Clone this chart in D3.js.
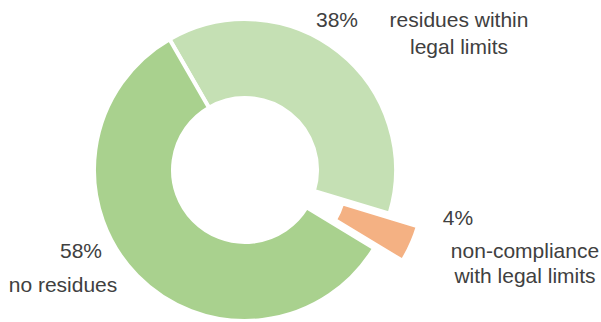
<!DOCTYPE html>
<html>
<head>
<meta charset="utf-8">
<script src="https://cdn.jsdelivr.net/npm/d3@7"></script>
<style>
  body { margin: 0; background: #fff; }
  text { font-family: Arial, "Liberation Sans", sans-serif; }
</style>
</head>
<body>
<script>
// Data
const categories = ['residues within legal limits', 'non-compliance with legal limits', 'no residues'];
const values = [38, 4, 58];
const nameLines = [['residues within', 'legal limits'], ['non-compliance', 'with legal limits'], ['no residues']];
const colors = ['#C5E0B4', '#F4B183', '#A9D18E'];
const exploded = [false, true, false];

const width = 601, height = 322;
const cx = 245, cy = 170;
const outerR = 151, innerR = 72;
const explodeBy = 31;

// label placement (percent label, then name lines)
const labelPos = [
  { pct: [337, 27], name: [459, 27], lh: 27 },
  { pct: [458, 225], name: [525, 257.5], lh: 25.5 },
  { pct: [81, 258], name: [63, 292], lh: 26 }
];

const svg = d3.select('body')
  .append('svg')
  .attr('width', width)
  .attr('height', height);

const pie = d3.pie()
  .sort(null)
  .value(d => d)
  .startAngle(-30 * Math.PI / 180)
  .endAngle(-30 * Math.PI / 180 + 2 * Math.PI);

const arc = d3.arc()
  .innerRadius(innerR)
  .outerRadius(outerR);

const arcs = pie(values);

const g = svg.append('g')
  .attr('transform', `translate(${cx}, ${cy})`);

g.selectAll('path')
  .data(arcs)
  .enter()
  .append('path')
  .attr('d', arc)
  .attr('fill', (d, i) => colors[i])
  .attr('stroke', '#fff')
  .attr('stroke-width', 4)
  .attr('stroke-linejoin', 'miter')
  .attr('transform', (d, i) => {
    if (!exploded[i]) return null;
    const mid = (d.startAngle + d.endAngle) / 2;
    return `translate(${Math.sin(mid) * explodeBy}, ${-Math.cos(mid) * explodeBy})`;
  });

// labels
const total = d3.sum(values);
const labels = svg.append('g')
  .attr('fill', '#404040')
  .attr('font-size', '21px')
  .attr('text-anchor', 'middle');

values.forEach((v, i) => {
  labels.append('text')
    .attr('x', labelPos[i].pct[0])
    .attr('y', labelPos[i].pct[1])
    .text(Math.round(v / total * 100) + '%');

  nameLines[i].forEach((line, j) => {
    labels.append('text')
      .attr('x', labelPos[i].name[0])
      .attr('y', labelPos[i].name[1] + j * labelPos[i].lh)
      .text(line);
  });
});
</script>
</body>
</html>
